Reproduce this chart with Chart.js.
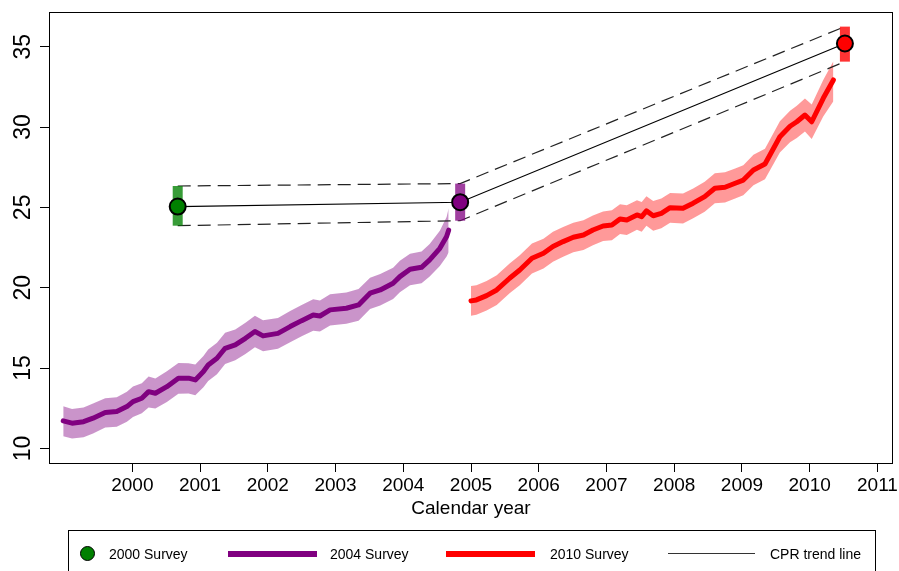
<!DOCTYPE html>
<html>
<head>
<meta charset="utf-8">
<script src="https://cdn.jsdelivr.net/npm/chart.js@4.4.1/dist/chart.umd.min.js"></script>
<style>
    body { margin: 0; background: #fff; width: 899px; height: 571px; overflow: hidden; position: relative; }
    #chart { position: absolute; left: 0; top: 0; }
    .legend { position: absolute; left: 68px; top: 530px; width: 808px; height: 60px; border: 1px solid #000; box-sizing: border-box; }
    .lg { position: absolute; font: 14px "Liberation Sans", Arial, sans-serif; color: #000; top: 23px; line-height: 16px; transform: translateY(-50%); white-space: nowrap; }
    .sym { position: absolute; }
</style>
</head>
<body>
<canvas id="chart" width="899" height="571"></canvas>
<div class="legend">
    <div class="sym" style="left:11px;top:15px;width:13px;height:13px;border-radius:50%;background:#008000;border:1.5px solid #000;"></div>
    <div class="lg" style="left:40px;">2000 Survey</div>
    <div class="sym" style="left:159px;top:20px;width:89px;height:6px;background:#800080;"></div>
    <div class="lg" style="left:261px;">2004 Survey</div>
    <div class="sym" style="left:377px;top:20px;width:89px;height:6px;background:#ff0000;"></div>
    <div class="lg" style="left:481px;">2010 Survey</div>
    <div class="sym" style="left:599px;top:22px;width:87px;height:1px;background:#333;"></div>
    <div class="lg" style="left:701px;">CPR trend line</div>
</div>
<script>
// ticks
var xTicks = [2000, 2001, 2002, 2003, 2004, 2005, 2006, 2007, 2008, 2009, 2010, 2011];
var yTicks = [10, 15, 20, 25, 30, 35];

// 2004 survey estimate with band
var yr2004 = [1998.98, 1999.11, 1999.28, 1999.42, 1999.60, 1999.77, 1999.92, 2000.01, 2000.14, 2000.24,
    2000.34, 2000.51, 2000.68, 2000.83, 2000.93, 2001.05, 2001.12, 2001.25, 2001.37, 2001.52,
    2001.67, 2001.81, 2001.93, 2002.15, 2002.33, 2002.50, 2002.67, 2002.77, 2002.92, 2003.16,
    2003.34, 2003.51, 2003.66, 2003.85, 2003.95, 2004.10, 2004.27, 2004.39, 2004.54, 2004.64, 2004.67];
var mid2004 = [11.71, 11.57, 11.66, 11.88, 12.23, 12.29, 12.60, 12.91, 13.12, 13.53,
    13.43, 13.84, 14.37, 14.37, 14.26, 14.78, 15.19, 15.61, 16.23, 16.44,
    16.85, 17.27, 17.00, 17.16, 17.58, 17.95, 18.30, 18.24, 18.62, 18.72,
    18.93, 19.66, 19.86, 20.28, 20.69, 21.15, 21.27, 21.73, 22.45, 23.18, 23.58];
var lo2004 = [10.75, 10.62, 10.70, 10.92, 11.30, 11.35, 11.65, 11.95, 12.18, 12.55,
    12.48, 12.88, 13.40, 13.42, 13.30, 13.80, 14.20, 14.62, 15.25, 15.48,
    15.88, 16.30, 16.05, 16.20, 16.60, 16.98, 17.32, 17.28, 17.65, 17.75,
    17.95, 18.68, 18.90, 19.30, 19.72, 20.15, 20.28, 20.70, 21.35, 21.95, 22.20];
var hi2004 = [12.62, 12.45, 12.55, 12.80, 13.12, 13.18, 13.52, 13.85, 14.05, 14.48,
    14.35, 14.80, 15.32, 15.30, 15.22, 15.75, 16.15, 16.58, 17.20, 17.40,
    17.82, 18.25, 17.98, 18.12, 18.55, 18.92, 19.28, 19.20, 19.60, 19.70,
    19.92, 20.62, 20.85, 21.25, 21.68, 22.12, 22.25, 22.72, 23.55, 24.40, 24.95];

// 2010 survey estimate with band
var yr2010 = [2005.00, 2005.08, 2005.23, 2005.38, 2005.57, 2005.72, 2005.90, 2006.07, 2006.21, 2006.36,
    2006.51, 2006.66, 2006.80, 2006.95, 2007.08, 2007.20, 2007.30, 2007.45, 2007.52, 2007.59,
    2007.69, 2007.81, 2007.94, 2008.13, 2008.28, 2008.45, 2008.60, 2008.75, 2008.90, 2009.02,
    2009.17, 2009.34, 2009.56, 2009.71, 2009.81, 2009.93, 2010.03, 2010.20, 2010.35];
var mid2010 = [19.18, 19.24, 19.51, 19.86, 20.59, 21.10, 21.83, 22.14, 22.56, 22.87,
    23.14, 23.28, 23.59, 23.84, 23.90, 24.28, 24.22, 24.53, 24.42, 24.78,
    24.48, 24.63, 24.98, 24.94, 25.26, 25.67, 26.19, 26.25, 26.50, 26.70,
    27.33, 27.70, 29.40, 30.05, 30.33, 30.75, 30.33, 31.79, 32.93];
var lo2010 = [18.25, 18.32, 18.58, 18.92, 19.65, 20.15, 20.88, 21.20, 21.62, 21.93,
    22.20, 22.35, 22.65, 22.90, 22.95, 23.35, 23.28, 23.60, 23.48, 23.85,
    23.55, 23.70, 24.05, 24.00, 24.32, 24.72, 25.25, 25.30, 25.55, 25.75,
    26.38, 26.75, 28.42, 29.05, 29.32, 29.72, 29.25, 30.65, 31.60];
var hi2010 = [20.10, 20.15, 20.42, 20.78, 21.50, 22.02, 22.75, 23.05, 23.48, 23.78,
    24.05, 24.20, 24.50, 24.75, 24.82, 25.20, 25.14, 25.45, 25.34, 25.70,
    25.40, 25.55, 25.90, 25.86, 26.18, 26.60, 27.12, 27.18, 27.42, 27.62,
    28.27, 28.65, 30.36, 31.02, 31.32, 31.78, 31.40, 32.92, 34.10];

// CPR surveys
var surveyNames = ['2000 Survey', '2004 Survey', '2010 Survey'];
var surveyYear = [2000.67, 2004.84, 2010.52];
var surveyMid = [25.05, 25.32, 35.20];
var surveyLo = [23.86, 24.17, 34.07];
var surveyHi = [26.33, 26.48, 36.25];

var surveyFill = ['#008000', '#800080', '#ff0000'];
var surveyBar = ['rgba(0,128,0,0.78)', 'rgba(128,0,128,0.75)', 'rgba(255,0,0,0.8)'];

function pts(xs, ys){
    var out = [];
    for(var i = 0; i < xs.length; i++){
        out.push({x: xs[i], y: ys[i]});
    }
    return out;
}

function plain(data, extra){
    var ds = {type: 'line', data: data, pointRadius: 0, tension: 0, borderWidth: 0, fill: false};
    for(var k in extra) ds[k] = extra[k];
    return ds;
}

var datasets = [
    plain(pts(yr2004, lo2004), {order: 10}),
    plain(pts(yr2004, hi2004), {order: 10, fill: 0, backgroundColor: 'rgba(128,0,128,0.42)'}),
    plain(pts(yr2010, lo2010), {order: 10}),
    plain(pts(yr2010, hi2010), {order: 10, fill: 2, backgroundColor: 'rgba(255,0,0,0.4)'}),
    plain(pts(yr2004, mid2004), {order: 8, borderWidth: 5, borderColor: '#800080', borderCapStyle: 'round', borderJoinStyle: 'round'}),
    plain(pts(yr2010, mid2010), {order: 8, borderWidth: 5, borderColor: '#ff0000', borderCapStyle: 'round', borderJoinStyle: 'round'}),
    plain(pts(surveyYear, surveyMid), {order: 6, borderWidth: 1.2, borderColor: '#000'}),
    plain(pts(surveyYear, surveyHi), {order: 6, borderWidth: 1.2, borderColor: '#222', borderDash: [13, 7]}),
    plain(pts(surveyYear, surveyLo), {order: 6, borderWidth: 1.2, borderColor: '#222', borderDash: [13, 7]})
];

// confidence bars of each survey
for(var i = 0; i < surveyYear.length; i++){
    datasets.push(plain([{x: surveyYear[i], y: surveyLo[i]}, {x: surveyYear[i], y: surveyHi[i]}],
        {order: 4, borderWidth: 10, borderColor: surveyBar[i], borderCapStyle: 'butt'}));
}

datasets.push({
    type: 'scatter',
    order: 1,
    data: pts(surveyYear, surveyMid),
    pointRadius: 8,
    pointBorderWidth: 2,
    pointBorderColor: '#000',
    pointBackgroundColor: surveyFill
});

var FONT = '"Liberation Sans", Arial, sans-serif';

// plot box and tick labels (placed through the chart scales)
var frame = {
    id: 'frame',
    afterDraw: function(chart){
        var ctx = chart.ctx;
        var a = chart.chartArea;
        ctx.save();
        ctx.strokeStyle = '#000';
        ctx.lineWidth = 1;
        ctx.strokeRect(Math.round(a.left) + 0.5, Math.round(a.top) + 0.5, Math.round(a.right - a.left) - 1, Math.round(a.bottom - a.top));

        ctx.fillStyle = '#000';
        ctx.textAlign = 'center';
        ctx.textBaseline = 'middle';

        var xs = chart.scales.x;
        ctx.font = '19px ' + FONT;
        for(var j = 0; j < xTicks.length; j++){
            ctx.fillText(String(xTicks[j]), xs.getPixelForValue(xTicks[j]), a.bottom + 23);
        }

        var ys = chart.scales.y;
        ctx.font = '23px ' + FONT;
        for(var i = 0; i < yTicks.length; i++){
            ctx.save();
            ctx.translate(24, ys.getPixelForValue(yTicks[i]));
            ctx.rotate(-Math.PI / 2);
            ctx.fillText(String(yTicks[i]), 0, 0);
            ctx.restore();
        }
        ctx.restore();
    }
};

new Chart(document.getElementById('chart').getContext('2d'), {
    type: 'line',
    data: {datasets: datasets},
    plugins: [frame],
    options: {
        responsive: false,
        animation: false,
        devicePixelRatio: 1,
        events: [],
        layout: {autoPadding: false, padding: {left: 0, right: 6, top: 12, bottom: 0}},
        plugins: {legend: {display: false}, tooltip: {enabled: false}},
        scales: {
            x: {
                type: 'linear',
                min: 1998.77,
                max: 2011.23,
                afterBuildTicks: function(s){ s.ticks = xTicks.map(function(v){ return {value: v}; }); },
                afterFit: function(s){ s.height = 108; },
                ticks: {display: false},
                grid: {drawOnChartArea: false, tickLength: 9, color: '#000'},
                border: {display: false},
                title: {
                    display: true,
                    text: 'Calendar year',
                    font: {family: FONT, size: 19},
                    color: '#000',
                    padding: {top: 0, bottom: 51}
                }
            },
            y: {
                type: 'linear',
                min: 9.09,
                max: 37.16,
                afterBuildTicks: function(s){ s.ticks = yTicks.map(function(v){ return {value: v}; }); },
                afterFit: function(s){ s.width = 49; },
                ticks: {display: false},
                grid: {drawOnChartArea: false, tickLength: 9, color: '#000'},
                border: {display: false}
            }
        }
    }
});
</script>
</body>
</html>
